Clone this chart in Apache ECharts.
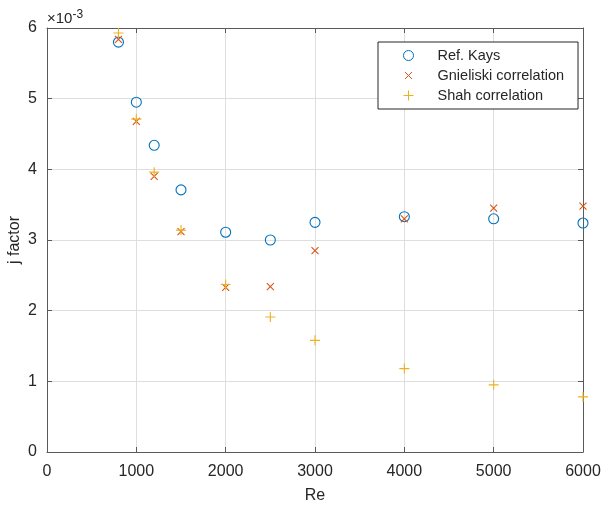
<!DOCTYPE html>
<html>
<head>
<meta charset="utf-8">
<script src="https://cdn.jsdelivr.net/npm/echarts@6/dist/echarts.min.js"></script>
<style>
html,body{margin:0;padding:0;background:#fff;}
#chart{width:604px;height:507px;}
</style>
</head>
<body>
<div id="chart"></div>
<script>
// Data (j factor values in units of 1e-3)
const reValues = [800, 1000, 1200, 1500, 2000, 2500, 3000, 4000, 5000, 6000];
const refKays = [5.80, 4.95, 4.34, 3.71, 3.11, 3.00, 3.25, 3.33, 3.30, 3.24];
const gnielinski = [5.84, 4.68, 3.90, 3.12, 2.33, 2.34, 2.85, 3.30, 3.45, 3.48];
const shah = [5.93, 4.71, 3.96, 3.14, 2.37, 1.91, 1.58, 1.18, 0.95, 0.78];
const seriesNames = ['Ref. Kays', 'Gnieliski correlation', 'Shah correlation'];
const xTicks = [0, 1000, 2000, 3000, 4000, 5000, 6000];
const yTicks = [0, 1, 2, 3, 4, 5, 6];

const FONT = '"Liberation Sans", Arial, Helvetica, sans-serif';
const colors = ['#0072BD', '#D95319', '#EDB120'];
const circlePath = 'path://M10,5A5,5 0 1,1 0,5A5,5 0 1,1 10,5Z';
const xPath = 'path://M0,0L10,10M10,0L0,10';
const plusPath = 'path://M5,0L5,10M0,5L10,5';
const symbols = [circlePath, xPath, plusPath];
const legendIcons = [
  'path://M10,5A5,5 0 1,1 0,5A5,5 0 1,1 10,5Z',
  'path://M1.5,1.5L8.5,8.5M8.5,1.5L1.5,8.5M0,0M10,10',
  'path://M5,0L5,10M0,5L10,5'
];
const sizes = [10, 7, 10];

function pairs(ys) { return reValues.map((x, i) => [x, ys[i]]); }
const allData = [refKays, gnielinski, shah];

const chart = echarts.init(document.getElementById('chart'), null, {renderer: 'canvas'});

const axisLineStyle = {color: '#5a5a5a', width: 1};
const baseAxisX = {
  type: 'value', min: 0, max: 6000, interval: 1000,
  axisTick: {show: true, inside: true, length: 5, lineStyle: axisLineStyle},
  axisLine: {show: true, onZero: false, lineStyle: axisLineStyle},
};
const baseAxisY = {
  type: 'value', min: 0, max: 6, interval: 1,
  axisTick: {show: true, inside: true, length: 5, lineStyle: axisLineStyle},
  axisLine: {show: true, onZero: false, lineStyle: axisLineStyle},
};

chart.setOption({
  animation: false,
  backgroundColor: '#fff',
  textStyle: {fontFamily: FONT},
  grid: {left: 47, right: 21, top: 28, bottom: 55, containLabel: false, outerBoundsMode: 'none'},
  xAxis: [
    Object.assign({}, baseAxisX, {
      position: 'bottom',
      name: 'Re', nameLocation: 'middle', nameGap: 36,
      nameTextStyle: {fontSize: 16, color: '#262626', fontFamily: FONT},
      axisLabel: {fontSize: 16, color: '#262626', margin: 12, fontFamily: FONT,
        formatter: v => xTicks.includes(v) ? String(v) : ''},
      splitLine: {show: true, lineStyle: {color: '#dedede', width: 1}}
    }),
    Object.assign({}, baseAxisX, {
      position: 'top', axisLabel: {show: false}, splitLine: {show: false}
    })
  ],
  yAxis: [
    Object.assign({}, baseAxisY, {
      position: 'left',
      name: 'j factor', nameLocation: 'middle', nameGap: 24, nameRotate: 90,
      nameMoveOverlap: false,
      nameTextStyle: {fontSize: 16, color: '#262626', fontFamily: FONT},
      axisLabel: {fontSize: 16, color: '#262626', margin: 10, fontFamily: FONT,
        formatter: v => yTicks.includes(v) ? String(v) : ''},
      splitLine: {show: true, lineStyle: {color: '#dedede', width: 1}}
    }),
    Object.assign({}, baseAxisY, {
      position: 'right', axisLabel: {show: false}, splitLine: {show: false}
    })
  ],
  legend: {
    orient: 'vertical',
    left: 378, top: 42,
    padding: [6, 14, 6, 25],
    itemGap: 5,
    itemWidth: 10, itemHeight: 10,
    symbolKeepAspect: true,
    selectedMode: false,
    borderColor: '#262626', borderWidth: 1,
    backgroundColor: '#fff',
    textStyle: {fontSize: 14.5, color: '#262626', fontFamily: FONT, lineHeight: 14, padding: [0, 0, 0, 19]},
    data: seriesNames.map((n, i) => ({
      name: n, icon: legendIcons[i],
      itemStyle: {color: i === 0 ? 'rgba(0,0,0,0)' : colors[i], borderColor: colors[i], borderWidth: 1, opacity: 1}
    }))
  },
  graphic: [{
    type: 'text', left: 47, top: 9,
    style: {
      rich: {
        a: {fontSize: 15, fill: '#262626', fontFamily: FONT},
        b: {fontSize: 12, fill: '#262626', fontFamily: FONT, verticalAlign: 'top', padding: [0, 0, 8, 0]}
      },
      text: '{a|\u00d710}{b|-3}'
    }
  }],
  series: seriesNames.map((n, i) => ({
    name: n, type: 'scatter',
    xAxisIndex: 0, yAxisIndex: 0,
    symbol: symbols[i], symbolSize: sizes[i], symbolKeepAspect: true,
    itemStyle: {color: 'rgba(0,0,0,0)', borderColor: colors[i], borderWidth: 1.1, opacity: 1},
    emphasis: {disabled: true},
    data: pairs(allData[i]),
    z: 3 + i
  }))
});
</script>
</body>
</html>
